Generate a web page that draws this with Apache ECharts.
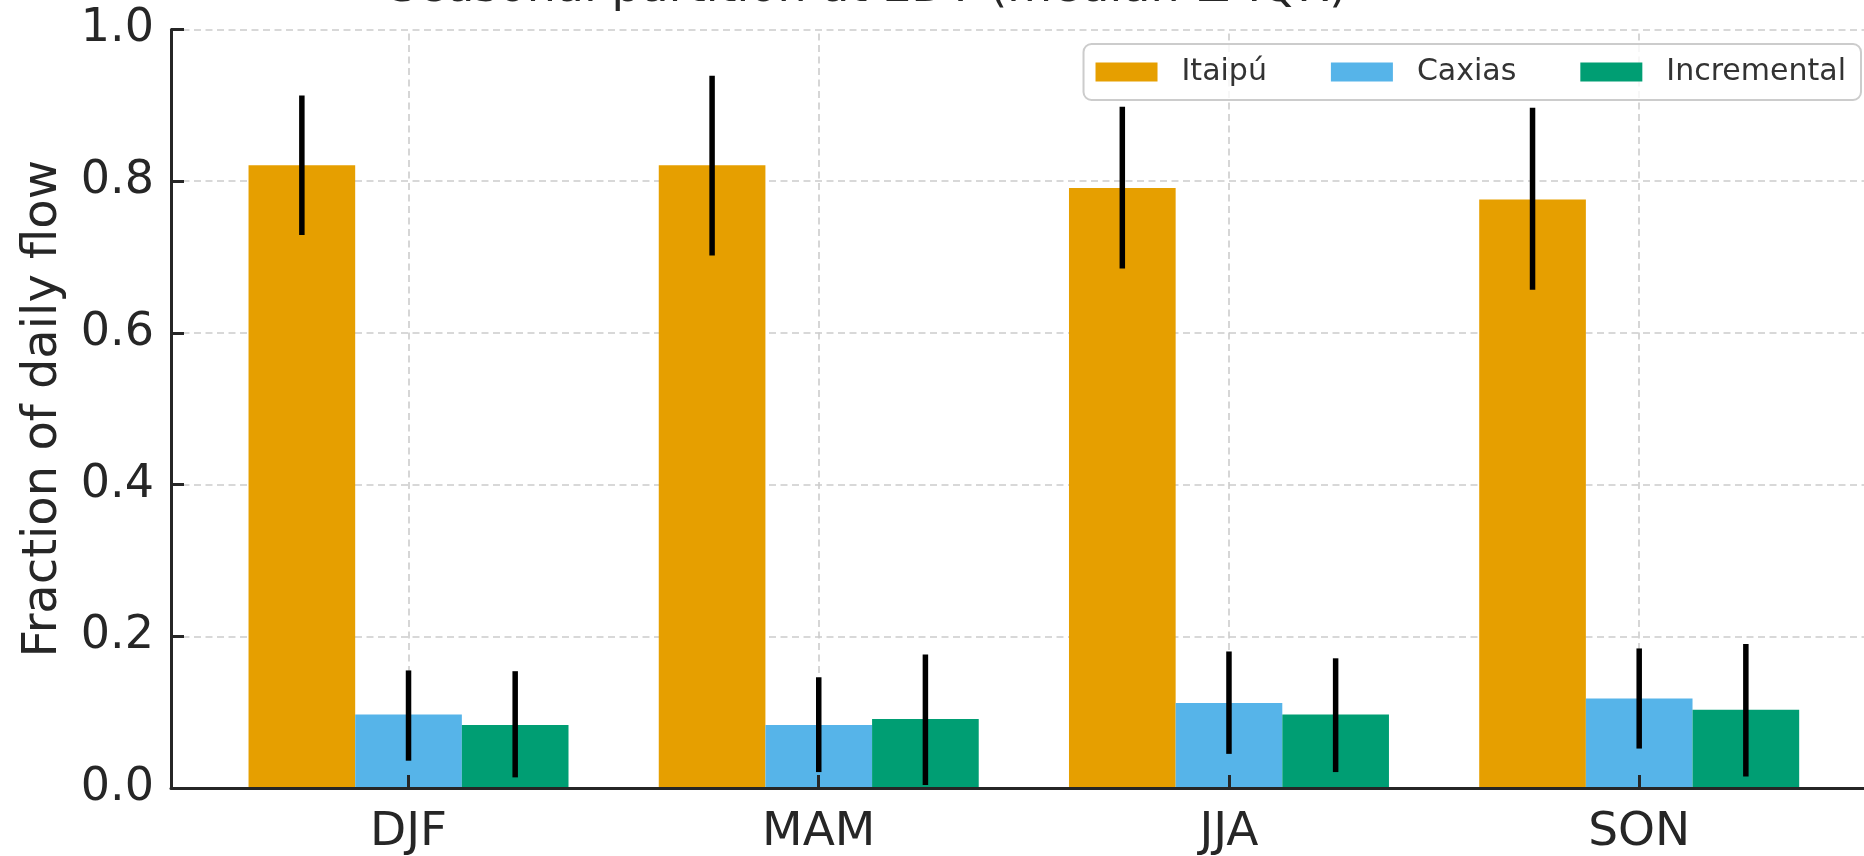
<!DOCTYPE html>
<html><head><meta charset="utf-8">
<script src="https://cdn.jsdelivr.net/npm/echarts@6/dist/echarts.min.js"></script>
<style>html,body{margin:0;padding:0;background:#fff}#c{width:1864px;height:856px}</style>
</head><body><div id="c"></div>
<script>
const categories = ['DJF', 'MAM', 'JJA', 'SON'];
const seriesNames = ['Itaipú', 'Caxias', 'Incremental'];
const itaipu = [0.821, 0.821, 0.791, 0.776];
const itaipuLo = [0.729, 0.702, 0.685, 0.657];
const itaipuHi = [0.913, 0.939, 0.898, 0.897];
const caxias = [0.097, 0.083, 0.112, 0.118];
const caxiasLo = [0.036, 0.021, 0.045, 0.052];
const caxiasHi = [0.155, 0.146, 0.180, 0.184];
const incremental = [0.083, 0.091, 0.097, 0.103];
const incrementalLo = [0.014, 0.004, 0.021, 0.015];
const incrementalHi = [0.154, 0.176, 0.171, 0.190];
const yTicks = [0, 0.2, 0.4, 0.6, 0.8, 1.0];
const titleText = 'Seasonal partition at EDT (median ± IQR)';
const yLabel = 'Fraction of daily flow';

const FONT = 'DejaVu Sans';
const TXT = '#262626';
const GRID_COLOR = '#cccccc';
const BAR_W = 0.26;
const colors = ['#E69F00', '#56B4E9', '#009E73'];
const tickIdx = categories.map((_, i) => i);

function makeSeries(name, values, lo, hi, color, slot) {
  return {
    type: 'custom',
    name: name,
    itemStyle: { color: color },
    z: 3,
    encode: { x: 0, y: [1, 2, 3] },
    data: values.map((v, i) => [i, v, lo[i], hi[i]]),
    renderItem: function (params, api) {
      const i = api.value(0), v = api.value(1), l = api.value(2), h = api.value(3);
      const xc = i + slot * BAR_W;
      const p0 = api.coord([xc - BAR_W / 2, v]);
      const p1 = api.coord([xc + BAR_W / 2, 0]);
      const e0 = api.coord([xc, h]);
      const e1 = api.coord([xc, l]);
      return {
        type: 'group',
        children: [
          { type: 'rect', shape: { x: p0[0], y: p0[1], width: p1[0] - p0[0], height: p1[1] - p0[1] },
            style: { fill: color } },
          { type: 'line', shape: { x1: e0[0], y1: e0[1], x2: e1[0], y2: e1[1] },
            style: { stroke: '#000', lineWidth: 5.5 } }
        ]
      };
    }
  };
}

const chart = echarts.init(document.getElementById('c'));
chart.setOption({
  animation: false,
  backgroundColor: '#fff',
  graphic: [{
    type: 'text', x: 868, y: -11, z: 10,
    style: { text: titleText, fontSize: 46, fontFamily: FONT, fill: TXT, align: 'center', verticalAlign: 'middle' }
  }],
  legend: {
    data: seriesNames,
    right: 3, top: 44,
    icon: 'rect',
    itemWidth: 62, itemHeight: 19, itemGap: 64,
    padding: [13, 15, 13, 12],
    backgroundColor: 'rgba(255,255,255,0.8)',
    borderColor: '#cccccc', borderWidth: 2, borderRadius: 8,
    textStyle: { fontSize: 30, fontFamily: FONT, color: '#333333', padding: [0, 0, 0, 19] }
  },
  grid: { left: 171, top: 29.5, right: 0, height: 763, containLabel: false },
  xAxis: {
    type: 'value', min: -0.579, max: 3.548, z: 10,
    axisLine: { show: true, onZero: false, lineStyle: { color: TXT, width: 3 } },
    axisTick: { show: true, inside: true, length: 13, customValues: tickIdx, lineStyle: { color: TXT, width: 3 } },
    axisLabel: { customValues: tickIdx, formatter: v => categories[Math.round(v)] || '', fontSize: 47, fontFamily: FONT, color: TXT, margin: 21 },
    splitLine: { show: false }
  },
  yAxis: {
    type: 'value', min: 0, max: 1, interval: 0.2,
    axisLine: { show: true, onZero: false, lineStyle: { color: TXT, width: 3 } },
    axisTick: { show: true, inside: true, length: 13, lineStyle: { color: TXT, width: 3 } },
    axisLabel: { fontSize: 46, fontFamily: FONT, color: TXT, margin: 17, formatter: v => v.toFixed(1) },
    splitLine: { show: true, lineStyle: { type: [7, 4.5], color: GRID_COLOR, width: 1.6 } },
    name: yLabel, nameLocation: 'middle', nameGap: 103,
    nameTextStyle: { fontSize: 48, fontFamily: FONT, color: TXT }
  },
  series: [
    {
      type: 'line', data: [], silent: true, z: 1,
      markLine: {
        silent: true, symbol: 'none', label: { show: false }, animation: false, z: 1,
        lineStyle: { type: [7, 4.5], color: GRID_COLOR, width: 1.6 },
        data: tickIdx.map(i => ({ xAxis: i }))
      }
    },
    makeSeries(seriesNames[0], itaipu, itaipuLo, itaipuHi, colors[0], -1),
    makeSeries(seriesNames[1], caxias, caxiasLo, caxiasHi, colors[1], 0),
    makeSeries(seriesNames[2], incremental, incrementalLo, incrementalHi, colors[2], 1)
  ]
});
</script>
</body></html>
